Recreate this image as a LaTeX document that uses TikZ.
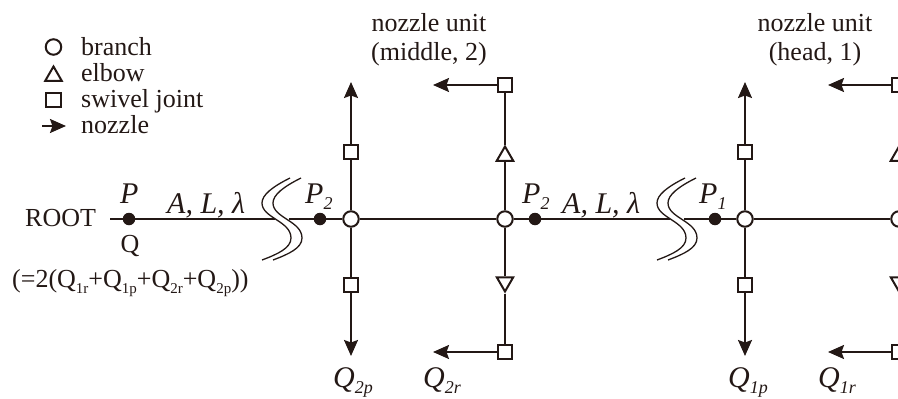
\documentclass[tikz,border=0pt]{standalone}
\usepackage{fontspec}
\setmainfont{Liberation Serif}
\usetikzlibrary{arrows.meta,shapes.geometric}
\definecolor{inkdark}{HTML}{231815}
\newcommand{\lowtxt}[2][18]{\raisebox{-6pt}{\fontsize{#1}{#1}\selectfont #2}}

\begin{document}
\begin{tikzpicture}[
  x=1pt, y=-1pt,
  every node/.style={text=inkdark},
  pipe/.style={draw=inkdark, line width=2pt},
  breakline/.style={draw=inkdark, line width=1.3pt},
  arrow/.style={pipe, -{Stealth[length=16pt, width=14pt, inset=2.5pt]}},
  branch/.style={circle, draw=inkdark, line width=2pt, fill=white, minimum size=15.5pt, inner sep=0pt},
  swivel/.style={rectangle, draw=inkdark, line width=2pt, fill=white, minimum size=14.5pt, inner sep=0pt},
  elbowup/.style={regular polygon, regular polygon sides=3, draw=inkdark, line width=2pt, fill=white,
                  minimum size=19pt, inner sep=0pt},
  elbowdown/.style={elbowup, shape border rotate=180},
  point/.style={circle, fill=inkdark, minimum size=12.5pt, inner sep=0pt},
  label/.style={inner sep=0pt, font=\fontsize{26}{29}\selectfont},
  symbol/.style={inner sep=0pt, font=\fontsize{30}{30}\selectfont\itshape},
  caption/.style={label, align=center}
]
\path[use as bounding box, clip] (0,0) rectangle (898,399);

% legend
\node[branch] (keybranch) at (53.5,47) {};
\node[elbowup] (keyelbow) at (53.5,76) {};
\node[swivel] (keyswivel) at (53.5,100) {};
\coordinate (keytail) at (42,126);
\coordinate (keytip) at (66,126);
\draw[arrow] (keytail) -- (keytip);
\node[label, anchor=base west] (txtbranch) at (81,55) {branch};
\node[label, anchor=base west] (txtelbow) at (81,81) {elbow};
\node[label, anchor=base west] (txtswivel) at (81,107) {swivel joint};
\node[label, anchor=base west] (txtnozzle) at (81,133) {nozzle};

% main line
\node[label, anchor=base west] (root) at (25,226) {ROOT};
\coordinate (start) at (110,219);
\node[point] (p0) at (129,219) {};
\coordinate (cut1a) at (275,219);
\coordinate (cut1b) at (289,219);
\node[point] (p2a) at (320,219) {};
\node[branch] (b2) at (351,219) {};
\node[branch] (e2) at (505,219) {};
\node[point] (p2b) at (535,219) {};
\coordinate (cut2a) at (670,219);
\coordinate (cut2b) at (684,219);
\node[point] (p1) at (715,219) {};
\node[branch] (b1) at (745,219) {};
\node[branch] (e1) at (899,219) {};

\draw[pipe] (start) -- (p0);
\draw[pipe] (p0) -- (cut1a);
\draw[pipe] (cut1b) -- (p2a);
\draw[pipe] (p2a) -- (b2);
\draw[pipe] (b2) -- (e2);
\draw[pipe] (e2) -- (p2b);
\draw[pipe] (p2b) -- (cut2a);
\draw[pipe] (cut2b) -- (p1);
\draw[pipe] (p1) -- (b1);
\draw[pipe] (b1) -- (e1);

% pipe cuts
\draw[breakline] (290,178) .. controls (272,187) and (262,195) .. (262,203)
  .. controls (262,218) and (291,221) .. (291,238) .. controls (291,248) and (278,254) .. (262,260);
\draw[breakline] (301,178) .. controls (283,187) and (273,195) .. (273,203)
  .. controls (273,218) and (302,221) .. (302,238) .. controls (302,248) and (289,254) .. (273,260);
\draw[breakline] (685,178) .. controls (667,187) and (657,195) .. (657,203)
  .. controls (657,218) and (686,221) .. (686,238) .. controls (686,248) and (673,254) .. (657,260);
\draw[breakline] (696,178) .. controls (678,187) and (668,195) .. (668,203)
  .. controls (668,218) and (697,221) .. (697,238) .. controls (697,248) and (684,254) .. (668,260);

% nozzle unit 2
\node[swivel] (s2pt) at (351,152) {};
\node[swivel] (s2pb) at (351,285) {};
\coordinate (t2pt) at (351,82);
\coordinate (t2pb) at (351,356);
\draw[pipe] (b2) -- (s2pt);
\draw[pipe] (b2) -- (s2pb);
\draw[arrow] (s2pt) -- (t2pt);
\draw[arrow] (s2pb) -- (t2pb);

\node[elbowup] (l2t) at (505,156) {};
\node[elbowdown] (l2b) at (505,282) {};
\node[swivel] (s2rt) at (505,85) {};
\node[swivel] (s2rb) at (505,352) {};
\coordinate (t2rt) at (433,85);
\coordinate (t2rb) at (433,352);
\draw[pipe] (e2) -- (l2t);
\draw[pipe] (e2) -- (l2b);
\draw[pipe] (l2t) -- (s2rt);
\draw[pipe] (l2b) -- (s2rb);
\draw[arrow] (s2rt) -- (t2rt);
\draw[arrow] (s2rb) -- (t2rb);

% nozzle unit 1
\node[swivel] (s1pt) at (745,152) {};
\node[swivel] (s1pb) at (745,285) {};
\coordinate (t1pt) at (745,82);
\coordinate (t1pb) at (745,356);
\draw[pipe] (b1) -- (s1pt);
\draw[pipe] (b1) -- (s1pb);
\draw[arrow] (s1pt) -- (t1pt);
\draw[arrow] (s1pb) -- (t1pb);

\node[elbowup] (l1t) at (899,156) {};
\node[elbowdown] (l1b) at (899,282) {};
\node[swivel] (s1rt) at (899,85) {};
\node[swivel] (s1rb) at (899,352) {};
\coordinate (t1rt) at (828,85);
\coordinate (t1rb) at (828,352);
\draw[pipe] (e1) -- (l1t);
\draw[pipe] (e1) -- (l1b);
\draw[pipe] (l1t) -- (s1rt);
\draw[pipe] (l1b) -- (s1rb);
\draw[arrow] (s1rt) -- (t1rt);
\draw[arrow] (s1rb) -- (t1rb);

% labels
\node[caption] (unit2) at (429,40) {nozzle unit\\(middle, 2)};
\node[caption] (unit1) at (815,40) {nozzle unit\\(head, 1)};
\node[symbol, anchor=base west] (lp0) at (120,203) {P};
\node[label, anchor=base] (lq0) at (130,252) {Q};
\node[label, anchor=base west] (lsum) at (12,287)
  {(=2(Q\lowtxt[15]{1r}+Q\lowtxt[15]{1p}+Q\lowtxt[15]{2r}+Q\lowtxt[15]{2p}))};
\node[symbol, anchor=base west] (lpipe1) at (167,213) {A, L, λ};
\node[symbol, anchor=base west] (lpipe2) at (562,213) {A, L, λ};
\node[symbol, anchor=base west] (lp2a) at (305,203) {P\lowtxt{2}};
\node[symbol, anchor=base west] (lp2b) at (522,203) {P\lowtxt{2}};
\node[symbol, anchor=base west] (lp1) at (699,203) {P\lowtxt{1}};
\node[symbol, anchor=base west] (lq2p) at (333,387) {Q\lowtxt{2p}};
\node[symbol, anchor=base west] (lq2r) at (423,387) {Q\lowtxt{2r}};
\node[symbol, anchor=base west] (lq1p) at (728,387) {Q\lowtxt{1p}};
\node[symbol, anchor=base west] (lq1r) at (818,387) {Q\lowtxt{1r}};
\end{tikzpicture}
\end{document}
